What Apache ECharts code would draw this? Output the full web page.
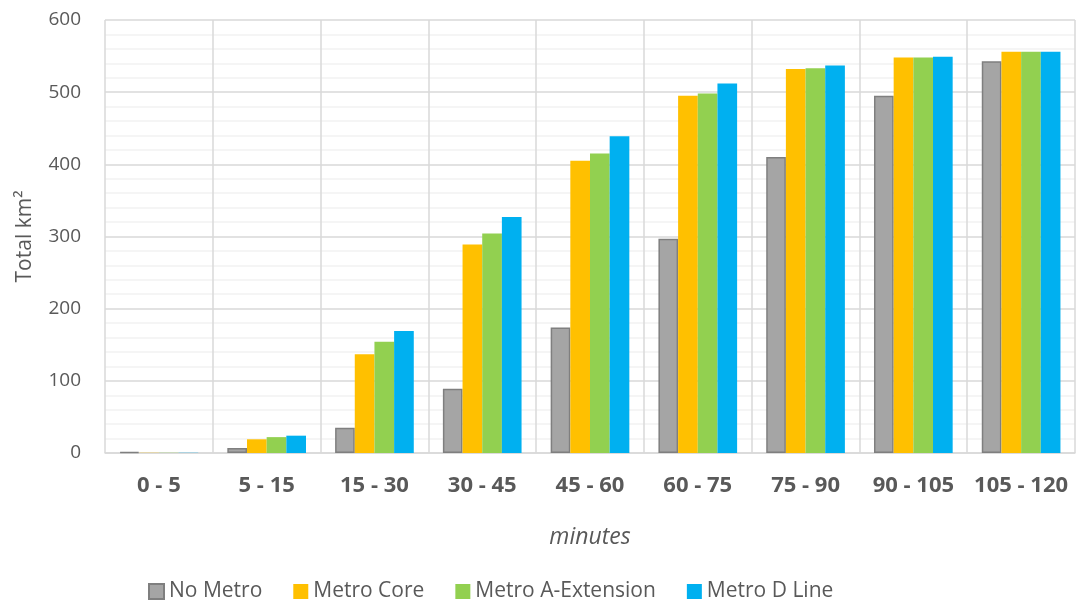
<!DOCTYPE html>
<html>
<head>
<meta charset="utf-8">
<script src="https://cdn.jsdelivr.net/npm/echarts@6/dist/echarts.min.js"></script>
<style>
html,body{margin:0;padding:0;background:#fff;}
#chart{width:1076px;height:601px;}
</style>
</head>
<body>
<div id="chart"></div>
<script>
const categories = ['0 - 5','5 - 15','15 - 30','30 - 45','45 - 60','60 - 75','75 - 90','90 - 105','105 - 120'];
const noMetro    = [1.5, 7, 35, 89, 174, 297, 410, 495, 543];
const metroCore  = [0.3, 19, 137, 289, 405, 495, 532, 548, 556];
const metroAExt  = [0.3, 22, 154, 304, 415, 498, 533, 548, 556];
const metroDLine = [0.3, 24, 169, 327, 439, 512, 537, 549, 556];
const seriesNames = ['No Metro','Metro Core','Metro A-Extension','Metro D Line'];
const yTicks = [0,100,200,300,400,500,600];

const FONT = '"Open Sans", sans-serif';
const TXT = '#595959';

const chart = echarts.init(document.getElementById('chart'), null, {renderer:'canvas'});
const colors = ['#A5A5A5','#FFC000','#92D050','#00B0F0'];
const borders = ['#7F7F7F','#FFC000','#92D050','#00B0F0'];
const datas = [noMetro, metroCore, metroAExt, metroDLine];

chart.setOption({
  animation:false,
  grid:{left:105, right:1, top:20, bottom:148, containLabel:false},
  legend:{
    top:576, left:143,
    itemWidth:15, itemHeight:15, itemGap:31,
    icon:'rect',
    textStyle:{fontFamily:FONT, fontSize:21, color:TXT},
    data: seriesNames
  },
  xAxis:{
    type:'category', data:categories,
    name:'minutes', nameLocation:'middle', nameGap:73,
    nameTextStyle:{fontFamily:FONT, fontSize:23, fontStyle:'italic', color:TXT},
    axisLine:{show:true, lineStyle:{color:'#D9D9D9', width:1.5}},
    axisTick:{show:false, interval:0},
    splitLine:{show:true, interval:0, lineStyle:{color:'#D9D9D9', width:1.5}},
    axisLabel:{interval:0, hideOverlap:false, fontFamily:FONT, fontSize:22, fontWeight:'bold', color:TXT, margin:22}
  },
  yAxis:{
    type:'value', min:0, max:600, interval:100,
    name:'Total km²', nameLocation:'middle', nameGap:69, nameRotate:90,
    nameTextStyle:{fontFamily:FONT, fontSize:21, color:TXT},
    axisLine:{show:false}, axisTick:{show:false},
    axisLabel:{fontFamily:FONT, fontSize:19, color:TXT, margin:24,
      formatter:(v)=> yTicks.includes(v) ? String(v) : ''},
    splitLine:{show:true, lineStyle:{color:'#D9D9D9', width:1.5}},
    minorTick:{show:false, splitNumber:5},
    minorSplitLine:{show:true, lineStyle:{color:'#F2F2F2', width:1.5}}
  },
  series: datas.map((d,i)=>({
    name:seriesNames[i], type:'bar', data:d,
    barGap:'0%', barCategoryGap:'27%',
    itemStyle:{color:colors[i], borderColor:borders[i], borderWidth: i===0?1.5:0}
  }))
});
</script>
</body>
</html>
